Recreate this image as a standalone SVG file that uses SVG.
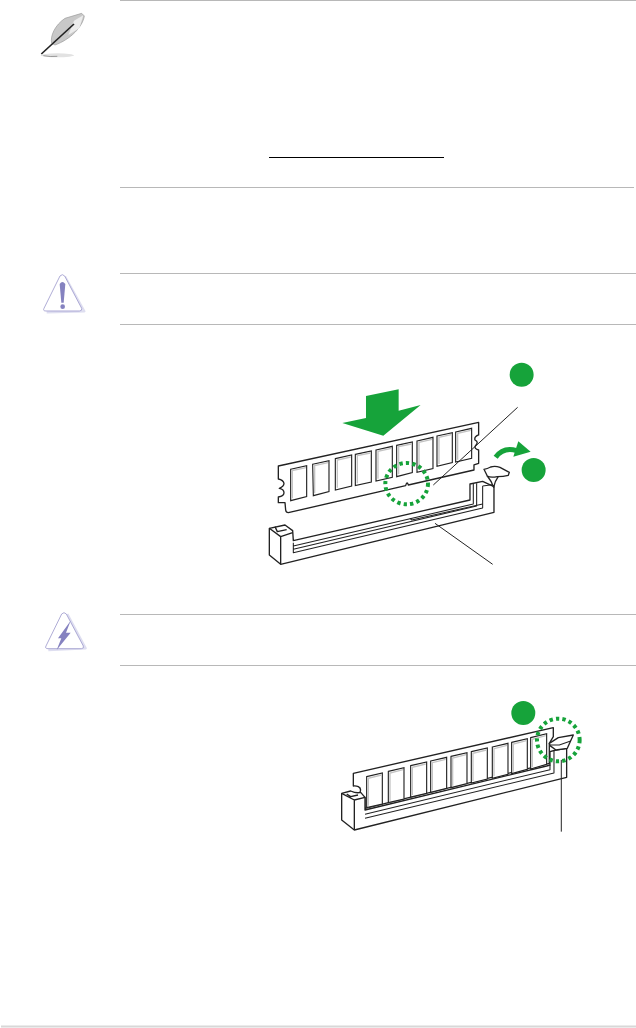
<svg xmlns="http://www.w3.org/2000/svg" width="636" height="1028" viewBox="0 0 636 1028">
<style>
.rule{stroke:#b8b8b8;stroke-width:1;fill:none}
.ln{fill:none;stroke:#222;stroke-width:4;stroke-linejoin:round}
.thin{fill:none;stroke:#222;stroke-width:3.2;stroke-linejoin:round}
.w{fill:#fff;stroke:#222;stroke-width:4;stroke-linejoin:round}
.chip{fill:#fff;stroke:#222;stroke-width:3.4}
.in{fill:none;stroke:#c4c4c4;stroke-width:4}
.g{fill:#16a33a}
.dash{fill:none;stroke:#16a33a;stroke-width:12;stroke-dasharray:10 9.500}
.lead{stroke:#222;stroke-width:3;fill:none}
.tri{fill:#fff;stroke:#9a97cb;stroke-width:2.4;stroke-linejoin:round}
.sh{fill:none;stroke:#dedef0;stroke-width:7;stroke-linejoin:round}
.v{fill:#8582c0}
</style>
<g id="rules">
<path class="rule" d="M120 .5H636M120 187.5H634M120 273.5H636M120 324.5H636M120 614.5H636M120 665.5H636"/>
<path d="M269 157.5H444" stroke="#000" stroke-width="1" fill="none"/>
<path d="M1 1026.500H636" stroke="#d8d8d8" stroke-width="2" fill="none"/>
</g>
<g id="feather" transform="scale(.3333)">
<ellipse cx="172" cy="166" rx="50" ry="6" fill="#e2e2e2"/>
<path d="M130 167q20 4 42 2" stroke="#999" stroke-width="3" fill="none"/>
<path d="M155 130C150 108 165 75 195 55L245 40L253 48C248 80 212 118 165 135Z" fill="#c8c8c8" stroke="#999" stroke-width="2"/>
<path d="M222 62L250 46L238 85L205 105Z" fill="#ececec"/>
<path d="M124 162L222 72" stroke="#222" stroke-width="5" fill="none"/>
</g>
<g id="warning" transform="translate(30 260) scale(.3333)">
<path class="sh" d="M105 50L163 154L50 157"/>
<path class="tri" d="M90 48Q97 40 104 48L155 145Q157 153 148 153H48Q38 153 42 145Z"/>
<path class="v" d="M89 72Q97 60 106 72L101 128H94Z"/>
<circle class="v" cx="98" cy="140" r="7"/>
</g>
<g id="electric" transform="translate(30 600) scale(.3333)">
<path class="sh" d="M112 42L167 145L55 150"/>
<path class="tri" d="M95 42Q102 34 109 42L160 138Q163 146 154 146H54Q44 146 48 138Z"/>
<path class="v" d="M122 62L108 98L122 98L80 150L94 115L84 115Z"/>
</g>
<g id="fig1" transform="translate(250 350) scale(.3333)">
<path class="w" d="M85 348L686 217V255Q672 260 675 270Q688 276 676 288Q672 296 686 300V340L672 345V360L475 405Q471 392 467 407L115 488Q108 488 107 480L105 458H85V441Q102 438 102 428Q102 418 88 415Q102 410 102 400Q100 390 85 387Z"/>
<path class="chip" d="M122 358L170 347V440L122 452Z"/><path class="chip" d="M188 343L237 332V425L190 437Z"/><path class="chip" d="M256 326L305 315V408L256 420Z"/><path class="chip" d="M316 313L364 303V396L316 407Z"/><path class="chip" d="M378 300L427 289V382L378 393Z"/><path class="chip" d="M440 286L487 276V368L440 380Z"/><path class="chip" d="M501 273L549 262V356L501 367Z"/><path class="chip" d="M561 258L607 248V338L561 349Z"/><path class="chip" d="M617 246L665 235V325L617 336Z"/>
<path class="in" d="M127 445V362L168 353M194 430V347L234 338M262 413V330L302 321M322 400V317L361 309M384 386V304L424 295M446 373V290L484 282M507 360V277L546 268M567 342V262L604 254M623 329V250L662 241"/>
<path class="w" d="M58 535L105 525L128 542L130 572L660 450V402L698 394L732 410V487L92 643L58 615Z"/>
<path class="ln" d="M58 535L92 560V643M92 560L128 548M75 530L82 545L110 539"/>
<path class="thin" d="M130 578V608L698 474V408M130 588L670 462V402M130 598L680 468V400M698 408L726 404"/>
<path class="thin" d="M480 505L485 510L698 462"/>
<path class="w" d="M712 378Q726 395 731 412Q734 395 746 378Z"/>
<path class="w" d="M702 358Q712 356 722 351Q735 347 750 352L778 367L775 376Q760 380 742 380Q720 384 712 378Z"/>
<path class="g" d="M348 138L446 118V182L512 165L400 257L277 219L348 204Z"/>
<path d="M737 322Q760 290 800 302" fill="none" stroke="#16a33a" stroke-width="15"/>
<path class="g" d="M805 274L842 305L790 320Z"/>
<circle class="g" cx="815" cy="74" r="36"/>
<circle class="g" cx="851" cy="360" r="36"/>
<ellipse class="dash" cx="470" cy="401" rx="64" ry="62"/>
<path class="lead" d="M803 172L550 405M555 520L728 643"/>
</g>
<g id="fig2" transform="translate(330 695) scale(.3333)">
<path class="w" d="M70 235L670 98V125L658 145V205L105 340V307Q92 302 90 292Q95 280 85 275Q78 272 70 273Z"/>
<path class="chip" d="M110 245L157 234V327L110 338Z"/><path class="chip" d="M175 229L222 218V312L175 323Z"/><path class="chip" d="M242 212L290 201V295L242 306Z"/><path class="chip" d="M302 198L350 187V280L302 292Z"/><path class="chip" d="M363 184L411 173V266L363 278Z"/><path class="chip" d="M424 170L472 159V252L424 264Z"/><path class="chip" d="M487 156L534 145V238L487 250Z"/><path class="chip" d="M545 142L592 131V223L545 236Z"/><path class="chip" d="M602 128L650 116V208L602 222Z"/>
<path class="in" d="M115 332V250L154 240M180 317V234L219 224M247 300V217L287 207M307 286V203L347 193M368 272V189L408 179M429 258V175L469 165M492 244V161L531 151M550 230V147L589 137M607 216V133L647 122"/>
<path class="w" d="M35 295L62 288Q80 296 92 292L105 307V345L650 213L660 210V170L678 165L710 160V247L73 405L35 375Z"/>
<path class="ln" d="M35 295L73 315V405M73 315L105 307M50 297L62 305L84 300"/>
<path class="thin" d="M105 358L660 224V210M105 370L672 234V168"/>
<path class="w" d="M658 145L685 128L730 120L712 160L678 165L660 152Z"/>
<path class="thin" d="M660 150L688 150L722 138"/>
<circle class="g" cx="580" cy="54" r="36"/>
<ellipse class="dash" cx="685" cy="135" rx="64" ry="64"/>
<path class="lead" d="M694 195V410"/>
</g>
</svg>
